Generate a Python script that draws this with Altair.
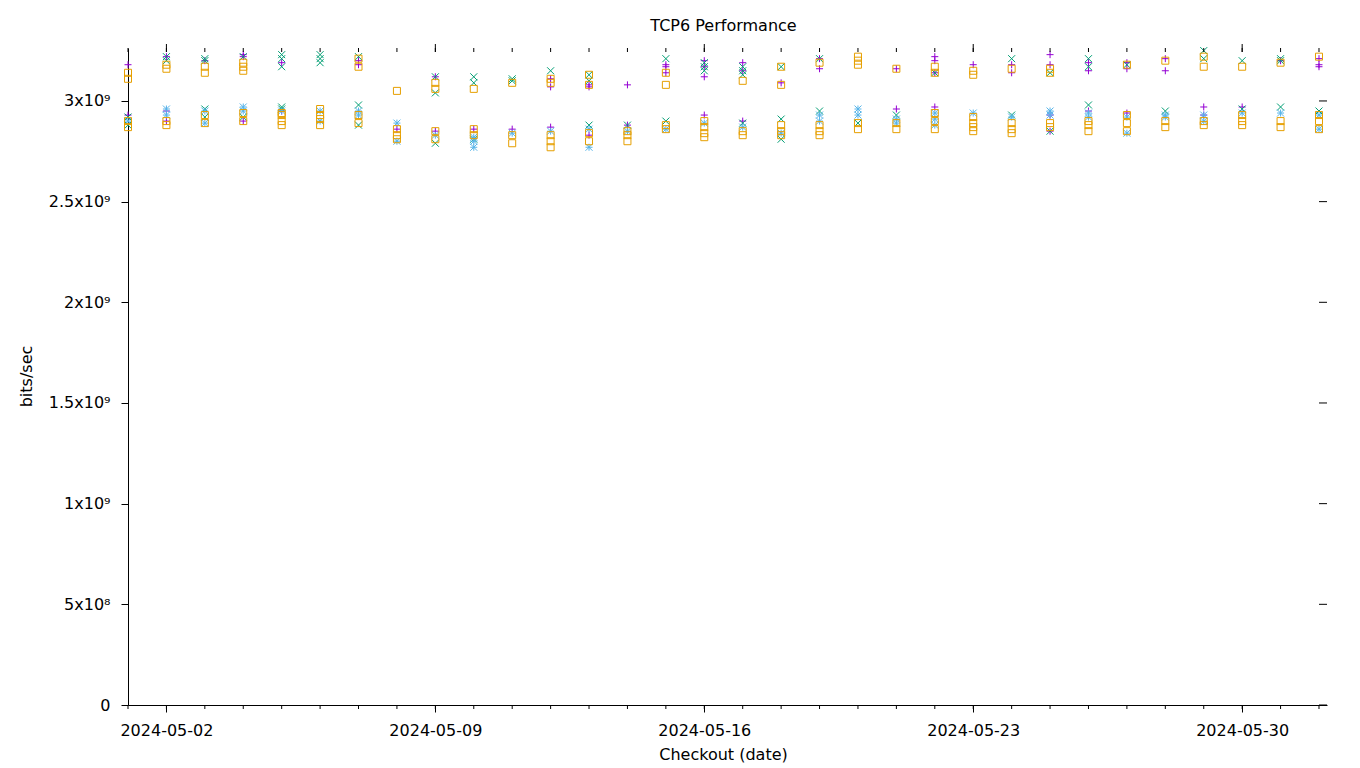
import altair as alt
import pandas as pd

# ---------------- data (values in units of 1e9 bits/sec) ----------------
DAYS = [d.strftime("%Y-%m-%dT00:00:00Z") for d in pd.date_range("2024-05-01", "2024-06-01", freq="D")]
MAJOR_DAYS = ["2024-05-02T00:00:00Z", "2024-05-09T00:00:00Z", "2024-05-16T00:00:00Z",
              "2024-05-23T00:00:00Z", "2024-05-30T00:00:00Z"]

SERIES = ["run1", "run2", "run3", "run4"]
COLORS = ["#9400d3", "#009e73", "#56b4e9", "#e69f00"]
SHAPES = ["M-1,0L1,0M0,-1L0,1",
          "M-1,-1L1,1M-1,1L1,-1",
          "M-1,0L1,0M0,-1L0,1M-1,-1L1,1M-1,1L1,-1",
          "square"]

purple = [
    [3.18, 2.93], [3.22, 2.95, 2.90], [3.20], [3.23, 3.22, 2.90], [3.19, 2.95], [],
    [3.20, 3.18], [2.86], [3.12, 2.85], [2.86], [2.86], [3.11, 3.07, 2.87],
    [3.08, 3.07, 2.83], [3.08, 2.88], [3.18, 3.17, 3.14], [3.20, 3.17, 3.12, 2.93],
    [3.19, 3.15, 2.90], [3.09], [3.21, 3.16], [], [3.16, 2.96], [3.22, 3.20, 3.14, 2.97],
    [3.18], [3.18, 3.14], [3.23, 3.18, 2.93, 2.85], [3.19, 3.15, 2.95], [3.19, 3.16, 2.94],
    [3.21, 3.15], [2.97, 2.93], [2.97], [3.20], [3.21, 3.18, 3.17],
]
green = [
    [2.88, 2.92], [3.22, 3.20], [3.21, 3.20, 2.96, 2.92], [3.22, 2.92],
    [3.23, 3.21, 3.17, 2.97, 2.96], [3.23, 3.21, 3.19], [3.22, 2.98, 2.88], [],
    [3.12, 3.04, 2.79], [3.12, 3.09, 2.81], [3.11, 3.10], [3.15], [3.13, 3.10, 2.88],
    [2.88], [3.21, 2.90], [3.19, 3.17, 3.15], [3.17, 3.15, 3.13, 2.89],
    [3.17, 2.91, 2.81], [3.21, 2.95], [2.89], [2.93], [3.14], [], [3.21, 2.93],
    [3.14, 2.85], [3.21, 3.17, 2.98], [3.18], [2.95], [3.25, 3.21], [3.20, 2.96],
    [3.21, 3.20, 2.97], [2.95],
]
lightblue = [
    [2.90], [2.96, 2.93], [2.95, 2.89], [2.97, 2.95], [2.95], [2.95, 2.90], [2.95, 2.93],
    [2.89, 2.80], [2.83], [2.82, 2.80, 2.77], [2.84], [2.85], [2.86, 2.77], [2.85],
    [2.86], [2.89], [2.87], [2.84], [2.93, 2.90], [2.96, 2.93], [2.91, 2.89],
    [2.94, 2.91, 2.88], [2.94], [2.92], [2.95, 2.93], [2.94, 2.92], [2.92, 2.84],
    [2.93, 2.92], [2.93, 2.90], [2.94], [2.94], [2.93, 2.86],
]
orange = [
    [3.14, 3.11, 2.90, 2.87], [3.18, 3.16, 2.90, 2.88], [3.17, 3.14, 2.93, 2.89],
    [3.19, 3.17, 3.15, 2.94, 2.90], [2.94, 2.93, 2.90, 2.88], [2.96, 2.93, 2.91, 2.88],
    [3.21, 3.17, 2.93, 2.89], [3.05, 2.86, 2.83, 2.81], [3.09, 3.06, 2.85, 2.81],
    [3.06, 2.86, 2.83], [3.09, 2.83, 2.79], [3.11, 3.09, 2.83, 2.80, 2.77],
    [3.13, 3.08, 2.84, 2.80], [2.85, 2.83, 2.80], [3.14, 3.08, 2.88, 2.86],
    [2.90, 2.87, 2.84, 2.82], [3.10, 2.85, 2.83], [3.17, 3.08, 2.88, 2.85, 2.83],
    [3.19, 2.88, 2.85, 2.83], [3.22, 3.20, 3.18, 2.89, 2.86], [3.16, 2.89, 2.86],
    [3.17, 3.14, 2.94, 2.90, 2.86], [3.15, 3.13, 2.92, 2.89, 2.87, 2.85],
    [3.16, 2.89, 2.86, 2.84], [3.16, 3.14, 2.89, 2.87], [2.90, 2.88, 2.85],
    [3.18, 2.93, 2.89, 2.85], [3.20, 2.90, 2.87], [3.22, 3.17, 2.90, 2.88],
    [3.17, 2.93, 2.90, 2.88], [3.19, 2.90, 2.87], [3.22, 2.93, 2.90, 2.86],
]

YTICKS = [0, 500000000, 1000000000, 1500000000, 2000000000, 2500000000, 3000000000]
YLABELS = ["0", "5x10⁸", "1x10⁹", "1.5x10⁹", "2x10⁹", "2.5x10⁹", "3x10⁹"]

# ---------------- tables ----------------
rows = []
for name, per_day in zip(SERIES, [purple, green, lightblue, orange]):
    for d, vals in enumerate(per_day):
        for v in vals:
            rows.append({"date": DAYS[d], "value": v * 1e9, "series": name})
df = pd.DataFrame(rows)
days_df = pd.DataFrame({"date": DAYS})
major_df = pd.DataFrame({"date": MAJOR_DAYS})
ytick_df = pd.DataFrame({"value": YTICKS})

label_expr = "''"
for v, lab in reversed(list(zip(YTICKS, YLABELS))):
    label_expr = f"datum.value == {v} ? '{lab}' : ({label_expr})"

W, H = 1199, 657
x_scale = alt.Scale(type="utc", domain=[alt.DateTime(year=2024, month=5, date=1, utc=True),
                                        alt.DateTime(year=2024, month=6, date=1, hours=5, utc=True)])
y_scale = alt.Scale(domain=[0, 3.263e9], nice=False, zero=True)

x_axis = alt.Axis(values=[alt.DateTime(year=2024, month=5, date=d, utc=True) for d in [2, 9, 16, 23, 30]],
                  format="%Y-%m-%d", tickSize=7, labelPadding=10, labelFlush=False,
                  grid=False, title="Checkout (date)", titleX=595, titleY=54,
                  titleBaseline="alphabetic", titleAlign="center")
y_axis = alt.Axis(values=YTICKS, labelExpr=label_expr, tickSize=7, labelPadding=11,
                  grid=False, title="bits/sec", titleX=-97, titleY=328,
                  titleBaseline="alphabetic", titleAngle=270, titleAlign="center")

X = alt.X("date:T", scale=x_scale, axis=x_axis, title="Checkout (date)")
Y = alt.Y("value:Q", scale=y_scale, axis=y_axis, title="bits/sec")

points = alt.Chart(df).mark_point(filled=False, size=49, strokeWidth=1, opacity=1).encode(
    x=X, y=Y,
    color=alt.Color("series:N", scale=alt.Scale(domain=SERIES, range=COLORS), legend=None),
    shape=alt.Shape("series:N", scale=alt.Scale(domain=SERIES, range=SHAPES), legend=None),
)

bottom_minor = alt.Chart(days_df).mark_rule(color="black", strokeWidth=1).encode(
    x=X, y=alt.value(H), y2=alt.value(H + 4))
top_minor = alt.Chart(days_df).mark_rule(color="black", strokeWidth=1).encode(
    x=X, y=alt.value(0), y2=alt.value(4))
top_major = alt.Chart(major_df).mark_rule(color="black", strokeWidth=1).encode(
    x=X, y=alt.value(-4), y2=alt.value(4))
right_ticks = alt.Chart(ytick_df).mark_rule(color="black", strokeWidth=1).encode(
    y=Y, x=alt.value(W - 8), x2=alt.value(W))

chart = alt.layer(points, bottom_minor, top_minor, top_major, right_ticks).properties(
    width=W, height=H,
    title=alt.TitleParams("TCP6 Performance", fontSize=16, fontWeight="normal", color="black",
                          anchor="middle", baseline="alphabetic", offset=14, dx=-4, dy=17),
    autosize=alt.AutoSizeParams(type="none"),
    padding={"left": 128, "top": 48, "right": 33, "bottom": 63},
).configure(font="DejaVu Sans").configure_view(stroke=None).configure_axis(
    domainColor="black", tickColor="black", labelColor="black", titleColor="black",
    labelFontSize=16, titleFontSize=16, titleFontWeight="normal", domainWidth=1, tickWidth=1,
)

chart.save("out.html", embed_options={"renderer": "svg", "actions": False})
